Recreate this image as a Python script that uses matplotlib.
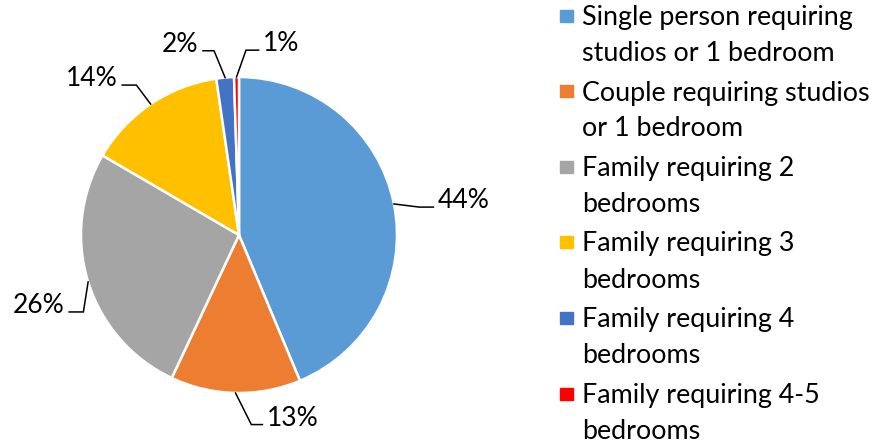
import numpy as np
import matplotlib.pyplot as plt

plt.rcParams['font.family'] = ['Lato', 'DejaVu Sans']

labels = ['Single person requiring\nstudios or 1 bedroom',
          'Couple requiring studios\nor 1 bedroom',
          'Family requiring 2\nbedrooms',
          'Family requiring 3\nbedrooms',
          'Family requiring 4\nbedrooms',
          'Family requiring 4-5\nbedrooms']
values = [43.7, 13.3, 26.4, 14.3, 1.8, 0.5]
pct_labels = ['44%', '13%', '26%', '14%', '2%', '1%']
colors = ['#5B9BD5', '#ED7D31', '#A5A5A5', '#FFC000', '#4472C4', '#FF0000']

W, H = 882, 448
fig = plt.figure(figsize=(W / 100, H / 100), dpi=100)
cx, cy, r = 239, 235, 158
ax = fig.add_axes([(cx - r) / W, (H - cy - r) / H, 2 * r / W, 2 * r / H])
wedges, _ = ax.pie(values, colors=colors, startangle=90, counterclock=False,
                   radius=1, wedgeprops=dict(edgecolor='white', linewidth=1.8))
ax.set_xlim(-1, 1)
ax.set_ylim(-1, 1)
ax.set_aspect('auto')
ax.axis('off')

# leader layout: (elbow dx, elbow dy, end dx) in radius units, text alignment
leader = [
    ((0.16, -0.02), 0.25, 'left'),
    ((0.10, -0.20), 0.17, 'left'),
    ((-0.03, -0.19), -0.12, 'right'),
    ((-0.09, 0.12), -0.18, 'right'),
    ((-0.07, 0.17), -0.14, 'right'),
    ((0.06, 0.17), 0.14, 'left'),
]
for w, txt, (elb, endx, ha) in zip(wedges, pct_labels, leader):
    th = np.deg2rad((w.theta1 + w.theta2) / 2)
    x0, y0 = np.cos(th), np.sin(th)
    x1, y1 = x0 + elb[0], y0 + elb[1]
    x2 = x0 + endx
    ax.plot([x0, x1, x2], [y0, y1, y1], color='black', lw=1.1, clip_on=False,
            solid_joinstyle='miter')
    tx = x2 + (0.028 if ha == 'left' else -0.028)
    ax.text(tx, y1 - 0.006, txt, ha=ha, va='baseline', fontsize=19)

# legend
base = 25
for lab, c in zip(labels, colors):
    fig.patches.append(plt.Rectangle((560 / W, (H - 22) / H - (base - 25) / H), 12.5 / W, 12 / H,
                                     transform=fig.transFigure, color=c))
    for k, line in enumerate(lab.split('\n')):
        fig.text(582 / W, (H - base - 36 * k) / H, line, ha='left', va='baseline',
                 fontsize=19.4)
    base += 75.5

fig.savefig('out.png', dpi=100)
